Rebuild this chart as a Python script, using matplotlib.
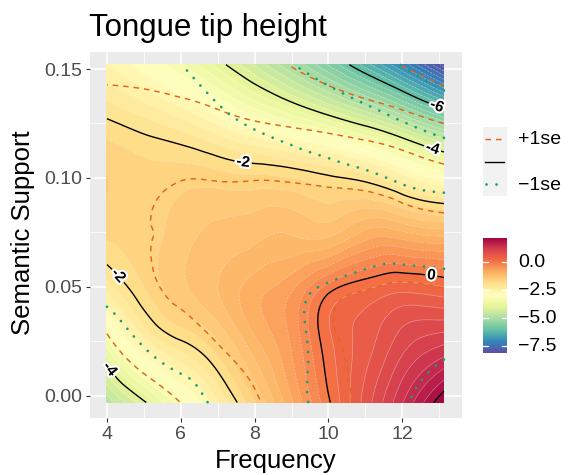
import numpy as np
import matplotlib
matplotlib.use("Agg")
import matplotlib.pyplot as plt
import matplotlib.tri as mtri
import matplotlib.patheffects as pe
from matplotlib.colors import Normalize
from matplotlib.lines import Line2D
from matplotlib.patches import Rectangle

# ---------------- data ----------------
freq = [4, 5, 6, 7, 8, 9, 10, 11, 12, 13.13]
support = [-0.003, 0.025, 0.05, 0.075, 0.1, 0.125, 0.152]

# fitted tongue tip height, one row per Semantic Support value
fit_s0 = [-4.75, -4.05, -3.25, -2.45, -1.62, -0.84, -0.04, 0.68, 1.38, 2.2]
fit_s1 = [-3.45, -2.5, -2.02, -1.62, -1.05, -0.57, 0.14, 0.5, 0.9, 1.15]
fit_s2 = [-2.3, -1.8, -1.45, -1.2, -0.9, -0.65, -0.12, 0.15, 0.3, 0.2]
fit_s3 = [-1.75, -1.68, -1.5, -1.35, -1.27, -1.22, -1.27, -0.95, -0.97, -1.1]
fit_s4 = [-1.6, -1.7, -1.68, -1.7, -1.75, -1.8, -1.95, -2.1, -2.5, -2.94]
fit_s5 = [-1.95, -2.12, -2.32, -2.65, -3.0, -3.32, -3.68, -4.1, -4.62, -5.3]
fit_s6 = [-2.6, -2.95, -3.38, -3.88, -4.42, -5.0, -5.62, -6.3, -7.05, -8.1]

# standard error of the fit
se_s0 = [0.9, 0.8, 0.74, 0.65, 0.53, 0.5, 0.45, 0.42, 0.48, 0.55]
se_s1 = [0.75, 0.6, 0.5, 0.35, 0.45, 0.3, 0.28, 0.28, 0.35, 0.5]
se_s2 = [0.65, 0.4, 0.4, 0.45, 0.4, 0.38, 0.22, 0.2, 0.2, 0.22]
se_s3 = [0.6, 0.35, 0.4, 0.4, 0.37, 0.35, 0.2, 0.2, 0.22, 0.25]
se_s4 = [0.8, 0.5, 0.35, 0.35, 0.3, 0.3, 0.25, 0.28, 0.33, 0.45]
se_s5 = [1.25, 1.05, 0.95, 0.9, 0.9, 0.85, 0.8, 0.75, 0.7, 0.7]
se_s6 = [1.8, 1.6, 1.4, 1.25, 1.15, 1.05, 1.0, 1.0, 1.0, 1.0]

line_levels = [-8, -6, -4, -2, 0, 2]
label_levels = [-6, -4, -2, 0]
plain_levels = [2]
x_ticks = [4, 6, 8, 10, 12]
y_ticks = [0.0, 0.05, 0.10, 0.15]
y_tick_labels = ["0.00", "0.05", "0.10", "0.15"]
cbar_ticks = [0.0, -2.5, -5.0, -7.5]
cbar_tick_labels = ["0.0", "\u22122.5", "\u22125.0", "\u22127.5"]
zmin, zmax = -8.1, 2.2

# ---------------- figure ----------------
plt.rcParams['font.family'] = ['Liberation Sans', 'DejaVu Sans']
W, H = 568, 475
fig = plt.figure(figsize=(W / 100, H / 100), dpi=100)


def fx(p):
    return p / W


def fy(p):
    return 1 - p / H


def px_axes(l, t, r, b):
    return fig.add_axes([l / W, 1 - b / H, (r - l) / W, (b - t) / H])


ax = px_axes(90, 52, 462, 418)
ax.set_facecolor('#EBEBEB')
for s in ax.spines.values():
    s.set_visible(False)
ax.set_xlim(3.54, 13.62)
ax.set_ylim(-0.0101, 0.1578)
ax.set_xticks(x_ticks)
ax.set_xticks([5, 7, 9, 11, 13], minor=True)
ax.set_yticks(y_ticks)
ax.set_yticklabels(y_tick_labels)
ax.set_yticks([0.025, 0.075, 0.125], minor=True)
ax.grid(which='major', color='white', lw=1.1, zorder=0)
ax.grid(which='minor', color='white', lw=0.55, zorder=0)
ax.set_axisbelow(True)
ax.tick_params(which='major', length=3.0, width=0.8, color='#333333',
               labelcolor='#4D4D4D', labelsize=14, pad=2.5)
ax.tick_params(which='minor', length=0)

# surface on grid -> refined by matplotlib's cubic tri interpolator
X, Y = np.meshgrid(freq, support)
nx, ny = len(freq), len(support)
tris = []
for j in range(ny - 1):
    for i in range(nx - 1):
        a = j * nx + i
        b = a + 1
        c = a + nx
        d = c + 1
        if (i + j) % 2 == 0:
            tris += [[a, b, d], [a, d, c]]
        else:
            tris += [[a, b, c], [b, d, c]]
tri = mtri.Triangulation(X.ravel(), Y.ravel(), tris)
Z = np.array([fit_s0, fit_s1, fit_s2, fit_s3, fit_s4, fit_s5, fit_s6]).ravel()
S = np.array([se_s0, se_s1, se_s2, se_s3, se_s4, se_s5, se_s6]).ravel()
refiner = mtri.UniformTriRefiner(tri)
tri_r, z_r = refiner.refine_field(Z, subdiv=4)
_, lo_r = refiner.refine_field(Z - S, subdiv=4)
_, hi_r = refiner.refine_field(Z + S, subdiv=4)

norm = Normalize(zmin, zmax)
cmap = plt.get_cmap('Spectral_r')
fill_levels = np.arange(-8.4, 2.61, 0.2)
ax.tricontourf(tri_r, z_r, levels=fill_levels, cmap=cmap, norm=norm,
               extend='both', zorder=1)
ax.tricontour(tri_r, z_r, levels=fill_levels, colors='white',
              linewidths=0.45, alpha=0.45, zorder=2)

cs_lo = ax.tricontour(tri_r, lo_r, levels=line_levels, colors='#E0661C',
                      linewidths=1.05, zorder=3)
cs_lo.set_linestyle((0, (3.8, 3.4)))
cs_hi = ax.tricontour(tri_r, hi_r, levels=line_levels, colors='#1B9E77',
                      linewidths=2.0, zorder=3)
cs_hi.set_linestyle((0, (0.01, 3.6)))
cs_hi.set_capstyle('round')

ax.tricontour(tri_r, z_r, levels=plain_levels, colors='black',
              linewidths=1.0, zorder=4)
cs = ax.tricontour(tri_r, z_r, levels=label_levels, colors='black',
                   linewidths=1.0, zorder=4, negative_linestyles='solid')
label_pos = [(12.94, 0.133), (12.81, 0.1128), (7.69, 0.1073),
             (12.81, 0.0578), (4.22, 0.054), (4.22, 0.0142)]
texts = ax.clabel(cs, manual=label_pos, inline=True, inline_spacing=2,
                  fmt={l: f"{l:d}" for l in label_levels}, fontsize=11)
for t in texts:
    t.set_fontweight('bold')
    t.set_zorder(6)
    t.set_path_effects([pe.withStroke(linewidth=3, foreground='white')])

# ---------------- text ----------------
fig.text(fx(89), fy(36), "Tongue tip height", fontsize=22.5, ha='left',
         va='baseline', color='black')
fig.text(fx(276), fy(461), "Frequency", fontsize=18.5, ha='center',
         va='center')
fig.text(fx(23), fy(233), "Semantic Support", fontsize=18.5, ha='center',
         va='center', rotation=90)

# ---------------- line legend ----------------
fig.patches.append(Rectangle((fx(482.7), fy(196)), 24 / W, 69.3 / H,
                             transform=fig.transFigure, facecolor='#F2F2F2',
                             edgecolor='none'))
fig.lines.append(Line2D([fx(485), fx(504)], [fy(139), fy(139)],
                        transform=fig.transFigure, color='#E0661C', lw=1.05,
                        dashes=(3.8, 3.4)))
fig.lines.append(Line2D([fx(485), fx(504)], [fy(161.5), fy(161.5)],
                        transform=fig.transFigure, color='black', lw=1.0))
fig.lines.append(Line2D([fx(486), fx(504)], [fy(183.5), fy(183.5)],
                        transform=fig.transFigure, color='#1B9E77', lw=2.0,
                        dashes=(0.01, 3.6), solid_capstyle='round',
                        dash_capstyle='round'))
fig.text(fx(518), fy(140), "+1se", fontsize=14, va='center', ha='left')
fig.text(fx(518), fy(185.5), "\u22121se", fontsize=14, va='center', ha='left')

# ---------------- colourbar ----------------
cax = px_axes(482.7, 237.7, 506.7, 353)
grad = np.linspace(zmax, zmin, 400)[:, None]
cax.imshow(grad, aspect='auto', cmap=cmap, norm=norm,
           extent=(0, 1, zmin, zmax))
cax.set_xlim(0, 1)
cax.set_ylim(zmin, zmax)
cax.axis('off')
for v, lab in zip(cbar_ticks, cbar_tick_labels):
    cax.plot([0, 0.2], [v, v], color='white', lw=0.9)
    cax.plot([0.8, 1], [v, v], color='white', lw=0.9)
    ypx = 237.7 + (zmax - v) / (zmax - zmin) * (353 - 237.7)
    fig.text(fx(518), fy(ypx), lab, fontsize=14, va='center', ha='left')

fig.savefig("out.png", dpi=100)
